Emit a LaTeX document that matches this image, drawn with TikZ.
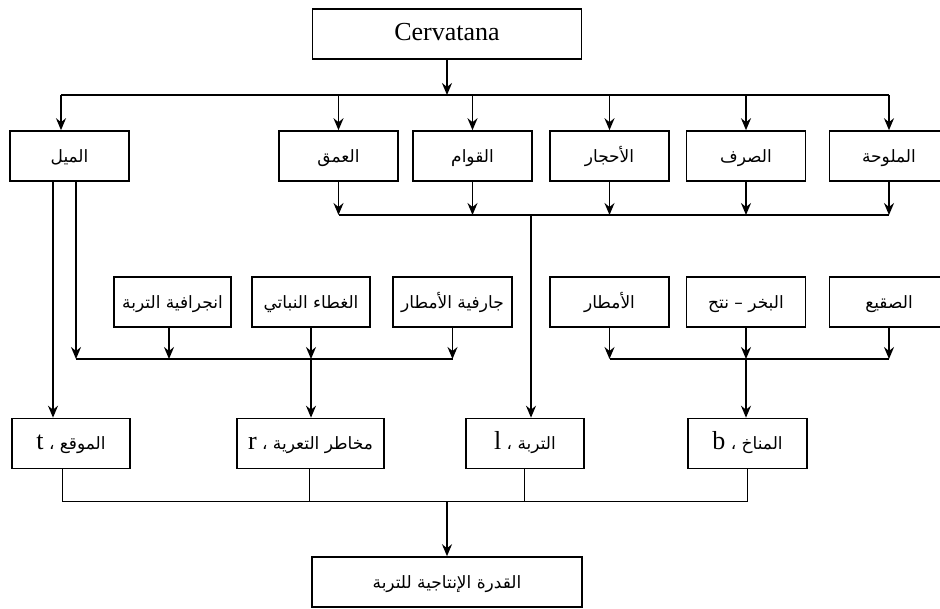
\documentclass[tikz,border=0pt]{standalone}
\usepackage{fontspec}
\setmainfont{Liberation Serif}
\newfontfamily\arabicfont[Script=Arabic]{DejaVu Sans}
\TeXXeTstate=1
\usetikzlibrary{arrows.meta}
\newcommand{\artxt}[1]{{\arabicfont\beginR #1\endR}}
\newcommand{\lat}[1]{{\rmfamily\fontsize{26}{28}\selectfont #1}}
\begin{document}
\begin{tikzpicture}[x=1pt,y=-1pt,
  box/.style={draw, line width=1.6pt, minimum height=50pt, minimum width=119pt, inner sep=0pt,
    text height=14pt, text depth=2pt,
    font=\arabicfont\fontsize{17}{20}\selectfont},
  thk/.style={line width=1.8pt},
  thn/.style={line width=1pt},
  arr/.style={thk, -{Stealth[length=12pt,width=10pt,inset=4pt]}}]
\useasboundingbox (0,0) rectangle (940,608);
\clip (0,0) rectangle (940,608);
% top
\node[box, minimum width=269pt, text height=18pt, text depth=6pt, font=\rmfamily\fontsize{26}{28}\selectfont] (cerv) at (447,34) {Cervatana};
% row 2
\node[box] (mayl)    at (69.5,156)  {\artxt{الميل}};
\node[box] (omq)     at (338.5,156) {\artxt{العمق}};
\node[box] (qawam)   at (472.5,156) {\artxt{القوام}};
\node[box] (ahjar)   at (609.5,156) {\artxt{الأحجار}};
\node[box] (sarf)    at (746,156)   {\artxt{الصرف}};
\node[box] (malouha) at (889,156)   {\artxt{الملوحة}};
% row 3
\node[box, minimum width=117pt] (ejraf) at (172.5,302) {\artxt{انجرافية التربة}};
\node[box, minimum width=118pt] (ghita) at (311,302)   {\artxt{الغطاء النباتي}};
\node[box] (jarf)   at (452.5,302) {\artxt{جارفية الأمطار}};
\node[box] (amtar)  at (609.5,302) {\artxt{الأمطار}};
\node[box] (bakhar) at (746,302)   {\artxt{البخر – نتح}};
\node[box] (saqi)   at (889,302)   {\artxt{الصقيع}};
% row 4
\node[box, minimum width=118pt] (mawqi)    at (71,443.5)    {\artxt{الموقع ، \lat{t}}};
\node[box, minimum width=147pt] (makhatir) at (310.5,443.5) {\artxt{مخاطر التعرية ، \lat{r}}};
\node[box, minimum width=118pt] (turba)    at (525,443.5)   {\artxt{التربة ، \lat{l}}};
\node[box] (manakh)   at (747.5,443.5) {\artxt{المناخ ، \lat{b}}};
% final
\node[box, minimum width=270pt] (qudra) at (447,582) {\artxt{القدرة الإنتاجية للتربة}};

% top bus
\coordinate (tb) at (447,95);
\coordinate (ml0) at ([xshift=-8.5pt]mayl.north);
\draw[arr] (cerv.south) -- (tb);
\draw[thk] (ml0 |- tb) -- (malouha.north |- tb);
\foreach \n in {omq,qawam,ahjar,sarf,malouha}
  \draw[arr] (\n.north |- tb) -- (\n.north);
\draw[arr] (ml0 |- tb) -- (ml0);

% row 2 collector
\coordinate (b2) at (531,215);
\foreach \n in {omq,qawam,ahjar,sarf,malouha}
  \draw[arr] (\n.south) -- (\n.south |- b2);
\draw[thk] (omq.south |- b2) -- (malouha.south |- b2);
\draw[arr] (b2) -- (b2 |- turba.north);

% mayl lines
\coordinate (mla) at ([xshift=-16.5pt]mayl.south);
\coordinate (mlb) at ([xshift=6.5pt]mayl.south);
\coordinate (b3) at (312,359);
\draw[arr] (mla) -- (mla |- mawqi.north);
\draw[arr] (mlb) -- (mlb |- b3);

% row 3 left collector
\coordinate (ej) at ([xshift=-3.5pt]ejraf.south);
\draw[arr] (ej) -- (ej |- b3);
\draw[arr] (ghita.south) -- (ghita.south |- b3);
\draw[arr] (jarf.south) -- (jarf.south |- b3);
\draw[thk] (mlb |- b3) -- (jarf.south |- b3);
\draw[arr] (ghita.south |- b3) -- (ghita.south |- makhatir.north);

% row 3 right collector
\foreach \n in {amtar,bakhar,saqi}
  \draw[arr] (\n.south) -- (\n.south |- b3);
\draw[thk] (amtar.south |- b3) -- (saqi.south |- b3);
\draw[arr] (bakhar.south |- b3) -- (bakhar.south |- manakh.north);

% bottom collector
\coordinate (b4) at (447,501);
\coordinate (mw) at ([xshift=-9pt]mawqi.south);
\coordinate (mk) at ([xshift=-1.5pt]makhatir.south);
\coordinate (tr) at ([xshift=-1pt]turba.south);
\draw[thn] (mw) -- (mw |- b4);
\draw[thn] (mk) -- (mk |- b4);
\draw[thn] (tr) -- (tr |- b4);
\draw[thn] (manakh.south) -- (manakh.south |- b4);
\draw[thn] (mw |- b4) -- (manakh.south |- b4);
\draw[arr] (b4) -- (qudra.north);
\end{tikzpicture}
\end{document}
